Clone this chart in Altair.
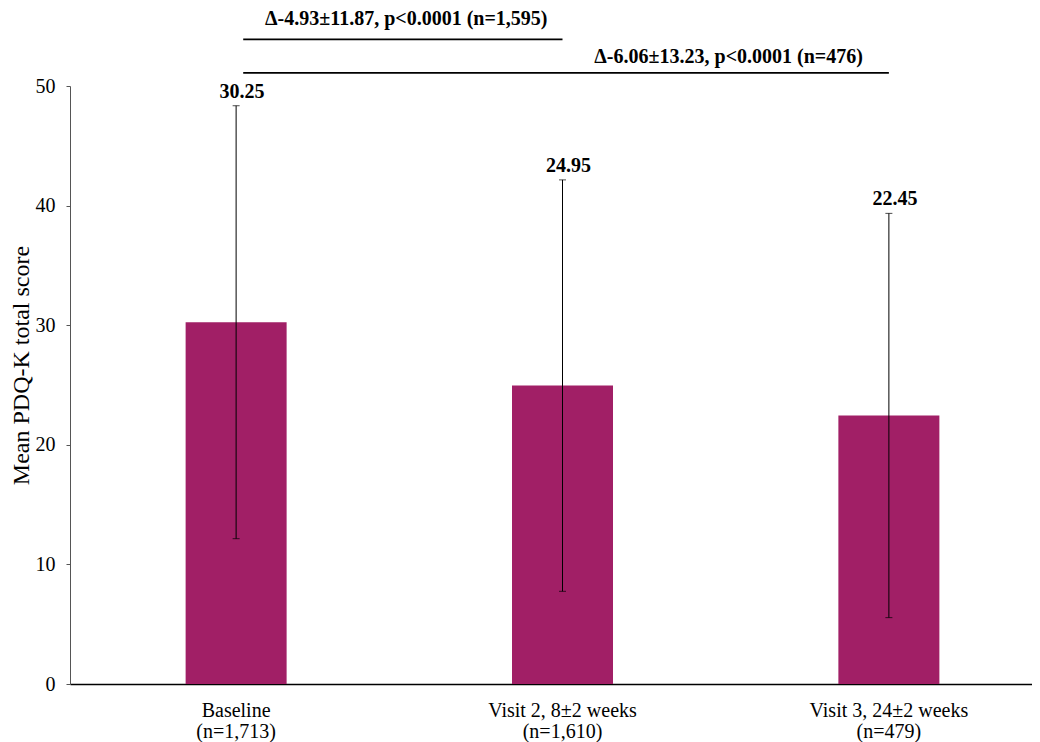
import altair as alt
import pandas as pd

categories = ["Baseline\n(n=1,713)", "Visit 2, 8±2 weeks\n(n=1,610)", "Visit 3, 24±2 weeks\n(n=479)"]
means = [30.25, 24.95, 22.45]
sds = [18.1, 17.2, 16.9]
value_labels = ["30.25", "24.95", "22.45"]

comp_text = ["Δ-4.93±11.87, p<0.0001 (n=1,595)", "Δ-6.06±13.23, p<0.0001 (n=476)"]
comp_from = [categories[0], categories[0]]
comp_to = [categories[1], categories[2]]
comp_line_y = [53.9, 51.1]
comp_text_y = [55.1, 51.95]

FONT = "Liberation Serif"
BAR_COLOR = "#A11F66"
Y_TITLE = "Mean PDQ-K total score"

df = pd.DataFrame({
    "cat": categories,
    "mean": means,
    "lo": [m - s for m, s in zip(means, sds)],
    "hi": [m + s for m, s in zip(means, sds)],
    "label": value_labels,
})
comp = pd.DataFrame({
    "text": comp_text,
    "from": comp_from,
    "to": comp_to,
    "ly": comp_line_y,
    "ty": comp_text_y,
})

xscale = alt.Scale(domain=categories, range=[0, 985], paddingInner=0.69, paddingOuter=0.354)
yscale = alt.Scale(domain=[0, 50], nice=False)


def X(field, **kw):
    return alt.X(f"{field}:N", sort=categories, title=None, **kw)


def Y(field, **kw):
    return alt.Y(f"{field}:Q", title=Y_TITLE, **kw)


base = alt.Chart(df)

bars = base.mark_bar(color=BAR_COLOR, width=101).encode(
    x=X("cat", scale=xscale),
    y=Y("mean", scale=yscale),
)
err = base.mark_rule(color="black", strokeWidth=1).encode(x=X("cat"), y=Y("lo"), y2="hi:Q")
cap_hi = base.mark_tick(color="black", orient="horizontal", size=7, thickness=1).encode(
    x=X("cat"), y=Y("hi"))
cap_lo = base.mark_tick(color="black", orient="horizontal", size=7, thickness=1).encode(
    x=X("cat"), y=Y("lo"))
vals = base.mark_text(font=FONT, fontSize=20, fontWeight="bold", color="black",
                      baseline="alphabetic", dx=6, dy=-8).encode(
    x=X("cat"), y=Y("hi"), text="label:N")

cbase = alt.Chart(comp)
comp_lines = cbase.mark_rule(color="black", strokeWidth=1.6).encode(
    x=X("from", bandPosition=0.57), x2="to:N", y=Y("ly"))
comp_t1 = cbase.transform_filter(alt.datum.to == categories[1]).mark_text(
    font=FONT, fontSize=20, fontWeight="bold", color="black", align="right",
    baseline="alphabetic", dx=-15).encode(x=X("to"), y=Y("ty"), text="text:N")
comp_t2 = cbase.transform_filter(alt.datum.to == categories[2]).mark_text(
    font=FONT, fontSize=20, fontWeight="bold", color="black", align="right",
    baseline="alphabetic", dx=-26).encode(x=X("to"), y=Y("ty"), text="text:N")

chart = alt.layer(bars, err, cap_hi, cap_lo, vals, comp_lines, comp_t1, comp_t2).properties(
    width=962, height=598,
    autosize=alt.AutoSizeParams(type="none"),
    padding={"left": 62, "top": 78, "right": 0, "bottom": 58},
).configure_view(
    stroke=None, strokeWidth=0
).configure_axis(
    grid=False, labelFont=FONT, labelColor="black", titleFont=FONT, titleColor="black",
    titleFontWeight="normal",
).configure_axisX(
    ticks=False, labelFontSize=20, labelAngle=0, labelPadding=16, labelLineHeight=21,
    labelExpr="split(datum.label, '\\n')", domainColor="black", domainWidth=1.5,
).configure_axisY(
    tickSize=4, tickCount=5, labelFontSize=20, labelPadding=11, titleFontSize=24,
    titlePadding=2, titleY=279, domainColor="#555", tickColor="#555",
).configure_axisTop(
    domain=False, ticks=False, labels=False, grid=False,
).configure_axisRight(
    domain=False, ticks=False, labels=False, grid=False,
)

chart.save("out.html", embed_options={"renderer": "svg", "actions": False})
